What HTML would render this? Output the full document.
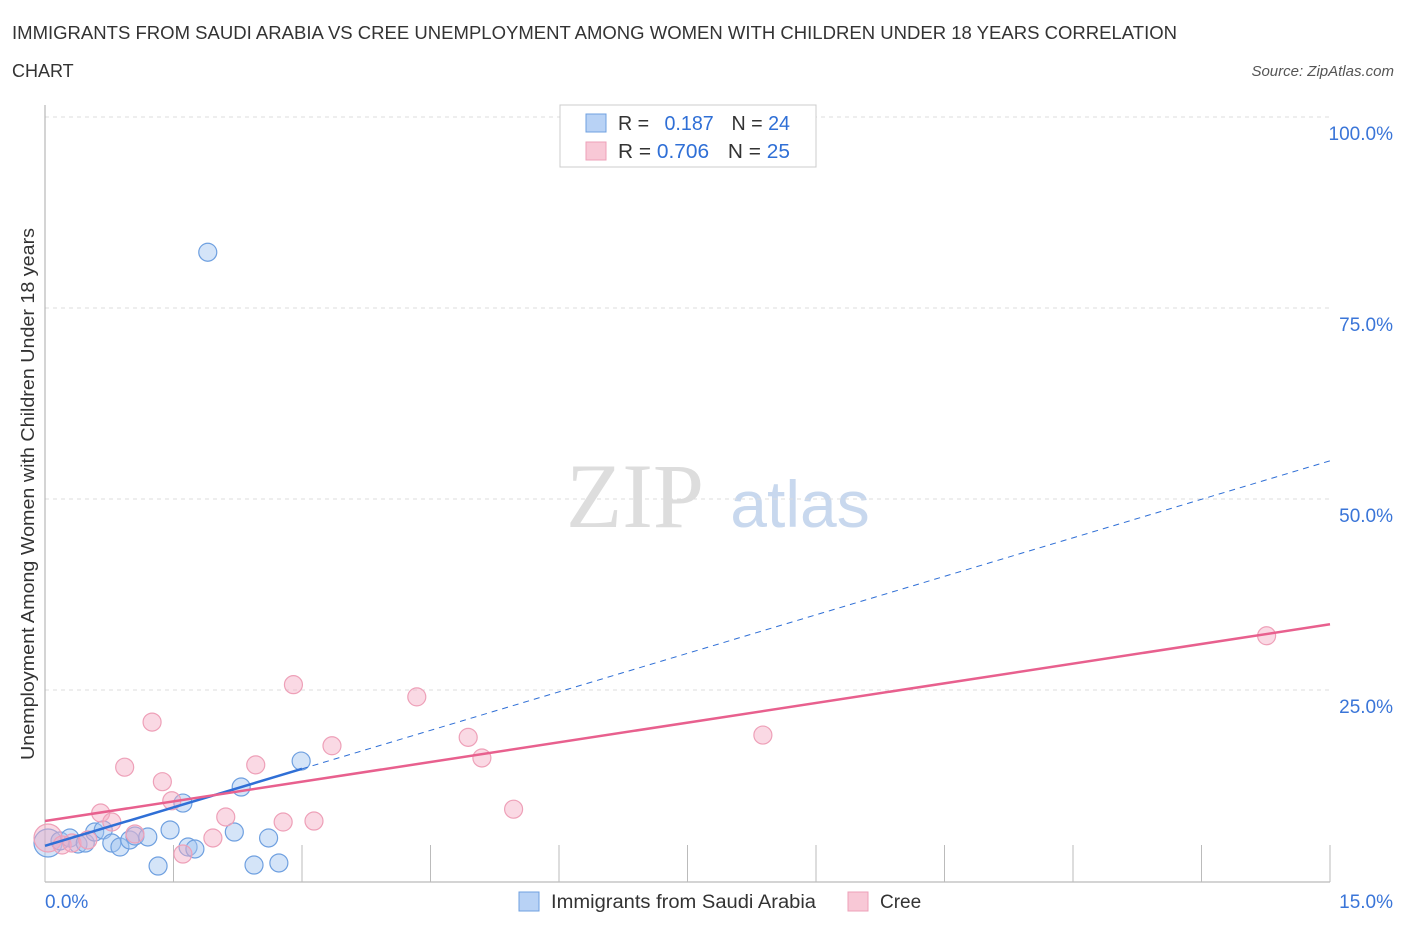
<!DOCTYPE html>
<html><head><meta charset="utf-8"><style>
body{margin:0;background:#fff;font-family:"Liberation Sans",sans-serif;}
</style></head><body>
<svg width="1406" height="930" xmlns="http://www.w3.org/2000/svg" id="chart" font-family="Liberation Sans, sans-serif">
<text x="12" y="39" font-size="18" fill="#333" textLength="1165" lengthAdjust="spacingAndGlyphs">IMMIGRANTS FROM SAUDI ARABIA VS CREE UNEMPLOYMENT AMONG WOMEN WITH CHILDREN UNDER 18 YEARS CORRELATION</text>
<text x="12" y="77" font-size="18" fill="#333">CHART</text>
<text x="1394" y="76" font-size="15" fill="#555" font-style="italic" text-anchor="end">Source: ZipAtlas.com</text>
<text x="0" y="0" font-size="18" fill="#333" text-anchor="middle" textLength="532" lengthAdjust="spacingAndGlyphs" transform="translate(34,494) rotate(-90)">Unemployment Among Women with Children Under 18 years</text>
<text x="635" y="527" font-size="92" fill="#ddd" text-anchor="middle" font-family="Liberation Serif, serif">ZIP</text>
<text x="800" y="527" font-size="66" fill="#c8d8ee" text-anchor="middle">atlas</text>
<g id="grid"></g><g id="marks"></g>
<g>
<rect x="560" y="105" width="256" height="62" fill="#fff" stroke="#ccc"/>
<rect x="586" y="114" width="20" height="18" fill="#b8d2f5" stroke="#6fa0e0"/>
<text x="618" y="130" font-size="20" fill="#333" textLength="172" lengthAdjust="spacingAndGlyphs">R = <tspan fill="#2f6fd6" dx="10">0.187</tspan><tspan dx="18" fill="#333">N = </tspan><tspan fill="#2f6fd6">24</tspan></text>
<rect x="586" y="142" width="20" height="18" fill="#f8c8d6" stroke="#eea0b8"/>
<text x="618" y="158" font-size="20" fill="#333" textLength="172" lengthAdjust="spacingAndGlyphs">R = <tspan fill="#2f6fd6">0.706</tspan><tspan dx="18" fill="#333">N = </tspan><tspan fill="#2f6fd6">25</tspan></text>
</g>
<g>
<rect x="519" y="892" width="20" height="19" fill="#b8d2f5" stroke="#6fa0e0"/>
<text x="551" y="908" font-size="19" fill="#333" textLength="265" lengthAdjust="spacingAndGlyphs">Immigrants from Saudi Arabia</text>
<rect x="848" y="892" width="20" height="19" fill="#f8c8d6" stroke="#eea0b8"/>
<text x="880" y="908" font-size="19" fill="#333">Cree</text>
</g>
</svg>
<script>
const yTicks=[25,50,75,100];
const yTickLabels=["25.0%","50.0%","75.0%","100.0%"];
const xTicks=[0,1.5,3,4.5,6,7.5,9,10.5,12,13.5,15];
const saudiX=[0.035,0.175,0.29,0.385,0.47,0.58,0.68,0.78,0.875,0.99,1.05,1.2,1.32,1.46,1.61,1.67,1.75,1.9,2.21,2.29,2.44,2.61,2.73,2.99];
const saudiY=[4.97,5.24,5.63,4.84,4.97,6.41,6.68,4.97,4.45,5.37,5.89,5.76,1.96,6.68,10.2,4.45,4.19,82.3,6.41,12.3,2.09,5.63,2.36,15.7];
const creeX=[0.035,0.2,0.315,0.5,0.65,0.78,0.93,1.05,1.25,1.37,1.48,1.61,1.96,2.11,2.46,2.78,2.9,3.14,3.35,4.34,4.94,5.1,5.47,8.38,14.26];
const creeY=[5.63,4.71,4.97,5.37,8.9,7.72,14.9,6.15,20.8,13.0,10.5,3.53,5.63,8.38,15.2,7.72,25.7,7.85,17.7,24.1,18.8,16.1,9.4,19.1,32.1];
const saudiTrend=[4.6,55.0];
const saudiSolidEnd=3.0;
const creeTrend=[7.85,33.6];
const NS="http://www.w3.org/2000/svg";
const X=v=>45+v/15*1285, Y=v=>881-v/100*764;
function mk(t,a,p){const e=document.createElementNS(NS,t);for(const k in a)e.setAttribute(k,a[k]);p.appendChild(e);return e;}
const g=document.getElementById('grid'), m=document.getElementById('marks');
yTicks.forEach((t,i)=>{
 const l=mk('line',{x1:45,x2:1330,y1:Y(t),y2:Y(t),stroke:'#ddd','stroke-dasharray':'4,4'},g);
 
 
 const tx=mk('text',{x:1393,y:Y(t)+23,'font-size':19,fill:'#3a75d8','text-anchor':'end'},g);
 tx.textContent=yTickLabels[i];
 
 
});
const ax=mk('line',{x1:45,x2:45,y1:105,y2:882,stroke:'#aaa'},g);


const bx=mk('line',{x1:45,x2:1330,y1:882,y2:882,stroke:'#aaa'},g);


xTicks.forEach(t=>{
 const l=mk('line',{x1:X(t),x2:X(t),y1:845,y2:882,stroke:'#bbb'},g);
 
 
});
const xl0=mk('text',{x:45,y:908,'font-size':19,fill:'#3a75d8'},g);xl0.textContent='0.0%';


const xl1=mk('text',{x:1393,y:908,'font-size':19,fill:'#3a75d8','text-anchor':'end'},g);xl1.textContent='15.0%';


saudiX.forEach((x,i)=>{
 const c=mk('circle',{cx:X(x),cy:Y(saudiY[i]),r:i==0?14:9,fill:'rgba(160,196,240,0.45)',stroke:'#6fa0e0','stroke-width':1.2},m);
 
 
});
creeX.forEach((x,i)=>{
 const c=mk('circle',{cx:X(x),cy:Y(creeY[i]),r:i==0?14:9,fill:'rgba(245,170,195,0.45)',stroke:'#eea0b8','stroke-width':1.2},m);
 
 
});
const sy=x=>saudiTrend[0]+(saudiTrend[1]-saudiTrend[0])*x/15;
const l1=mk('line',{x1:X(0),y1:Y(sy(0)),x2:X(saudiSolidEnd),y2:Y(sy(saudiSolidEnd)),stroke:'#2f6fd6','stroke-width':2.5},m);


const l2=mk('line',{x1:X(saudiSolidEnd),y1:Y(sy(saudiSolidEnd)),x2:X(15),y2:Y(sy(15)),stroke:'#2f6fd6','stroke-width':1,'stroke-dasharray':'6,5'},m);


const l3=mk('line',{x1:X(0),y1:Y(creeTrend[0]),x2:X(15),y2:Y(creeTrend[1]),stroke:'#e8608e','stroke-width':2.5},m);


</script>
</body></html>
